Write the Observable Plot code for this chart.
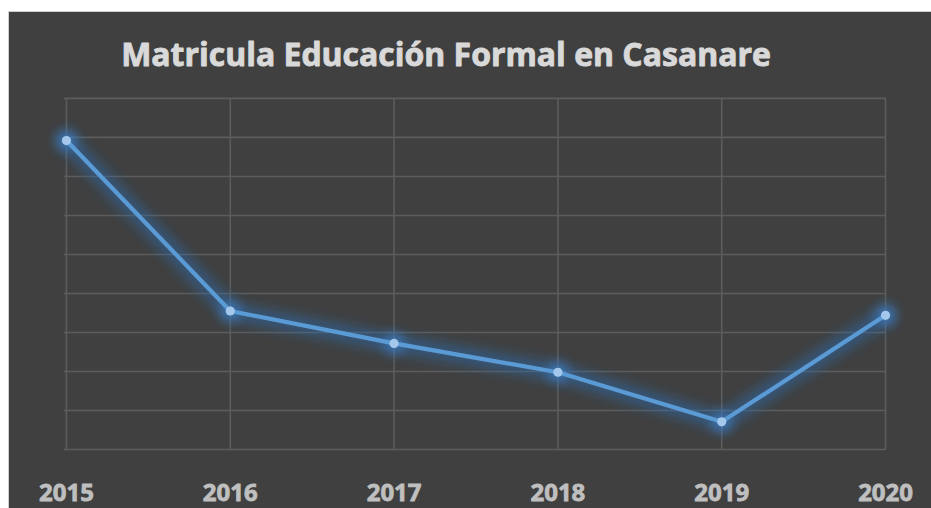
<!DOCTYPE html>
<html>
<head>
<meta charset="utf-8">
<script src="https://cdn.jsdelivr.net/npm/d3@7"></script>
<script src="https://cdn.jsdelivr.net/npm/@observablehq/plot@0.6"></script>
<style>
  html, body { margin: 0; padding: 0; background: #ffffff; }
  #wrap {
    position: absolute; left: 8px; top: 11px; width: 923px; height: 497px;
    background: #404040; border-top: 1px solid #cfcfcf; border-left: 1px solid #cfcfcf;
    box-sizing: border-box; overflow: hidden;
  }
  #wrap svg { position: absolute; left: -1px; top: -1px; }
  #wrap svg g[aria-label="x-axis tick label"] text,
  #wrap svg g[aria-label="x-axis"] text {
    font-family: "Open Sans", sans-serif; font-weight: 700; font-size: 24px; fill: #bfbfbf;
    stroke: #bfbfbf; stroke-width: 0.8px;
  }
</style>
</head>
<body>
<div id="wrap"></div>
<script>
const title = "Matricula Educación Formal en Casanare";
const years = ["2015", "2016", "2017", "2018", "2019", "2020"];
const enrolment = [91920, 87550, 86720, 85980, 84710, 87440];
const gridValues = [84000, 85000, 86000, 87000, 88000, 89000, 90000, 91000, 92000, 93000];

const data = years.map((y, i) => ({year: y, value: enrolment[i]}));

const chart = Plot.plot({
  width: 923,
  height: 497,
  marginLeft: 56,
  marginRight: 44,
  marginTop: 87,
  marginBottom: 58.5,
  style: {background: "transparent", color: "#bfbfbf", fontFamily: "Open Sans, sans-serif", overflow: "visible"},
  x: {type: "point", domain: years, padding: 0, tickSize: 0, tickPadding: 34, label: null},
  y: {domain: [84000, 93000], axis: null},
  marks: [
    Plot.gridY(gridValues, {stroke: "#5c5c5c", strokeOpacity: 1, strokeWidth: 1.6}),
    Plot.gridX(years, {stroke: "#5c5c5c", strokeOpacity: 1, strokeWidth: 1.6}),
    // glow layers (blurred after render)
    Plot.line(data, {x: "year", y: "value", stroke: "#2d6cb0", strokeWidth: 18, strokeOpacity: 0.5}),
    Plot.dot(data, {x: "year", y: "value", r: 10, fill: "#3f82cc", fillOpacity: 0.75, stroke: "none"}),
    // main layers
    Plot.line(data, {x: "year", y: "value", stroke: "#5b9bd5", strokeWidth: 4.2}),
    Plot.dot(data, {x: "year", y: "value", r: 4.6, fill: "#a4c8ec", stroke: "none"}),
    Plot.text([title], {text: d => d, frameAnchor: "top", dx: -29.5, dy: -42.2, lineAnchor: "middle",
      fill: "#d9d9d9", stroke: "#d9d9d9", strokeWidth: 0.9, fontSize: 32, fontWeight: 700,
      fontFamily: "Open Sans, sans-serif"})
  ]
});

const ns = "http://www.w3.org/2000/svg";
const defs = document.createElementNS(ns, "defs");
const filter = document.createElementNS(ns, "filter");
filter.setAttribute("id", "glowfx");
filter.setAttribute("filterUnits", "userSpaceOnUse");
filter.setAttribute("x", "-50"); filter.setAttribute("y", "-50");
filter.setAttribute("width", "1050"); filter.setAttribute("height", "600");
const blur = document.createElementNS(ns, "feGaussianBlur");
blur.setAttribute("stdDeviation", "6");
filter.appendChild(blur);
defs.appendChild(filter);
chart.insertBefore(defs, chart.firstChild);

const lineGroups = chart.querySelectorAll('g[aria-label="line"]');
const dotGroups = chart.querySelectorAll('g[aria-label="dot"]');
if (lineGroups[0]) lineGroups[0].setAttribute("filter", "url(#glowfx)");
if (dotGroups[0]) dotGroups[0].setAttribute("filter", "url(#glowfx)");

document.getElementById("wrap").appendChild(chart);
</script>
</body>
</html>
